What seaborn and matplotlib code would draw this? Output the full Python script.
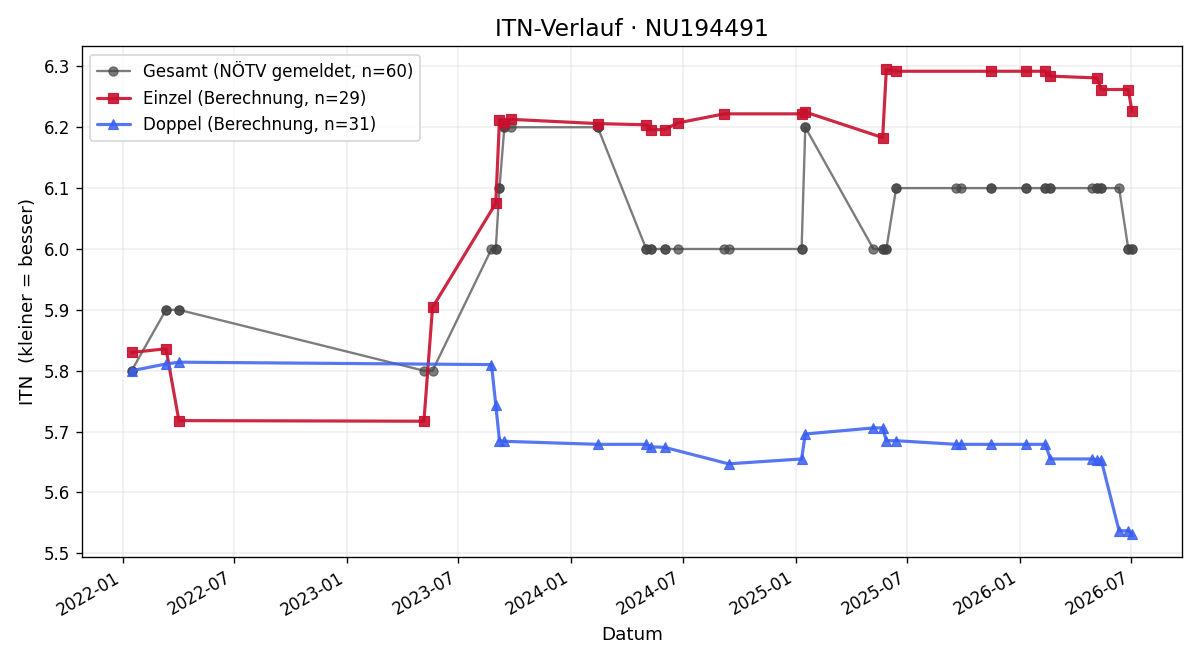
import matplotlib
matplotlib.use("Agg")
import matplotlib.pyplot as plt
import matplotlib.dates as mdates
import seaborn as sns
import pandas as pd

# ---- data ----
einzel_dates = ["2022-01-15", "2022-03-12", "2022-04-02", "2023-05-06", "2023-05-20",
                "2023-08-31", "2023-09-06", "2023-09-14", "2023-09-24", "2024-02-13",
                "2024-05-02", "2024-05-10", "2024-06-01", "2024-06-22", "2024-09-06",
                "2025-01-10", "2025-01-16", "2025-05-22", "2025-05-28", "2025-06-13",
                "2025-11-14", "2026-01-10", "2026-02-11", "2026-02-19", "2026-05-06",
                "2026-05-13", "2026-06-26", "2026-07-02"]
einzel_itn = [5.830, 5.836, 5.718, 5.717, 5.904,
              6.075, 6.212, 6.207, 6.213, 6.206,
              6.204, 6.196, 6.196, 6.207, 6.222,
              6.222, 6.225, 6.183, 6.295, 6.292,
              6.292, 6.292, 6.292, 6.284, 6.281,
              6.262, 6.262, 6.226]

doppel_dates = ["2022-01-15", "2022-03-12", "2022-04-02", "2023-08-24", "2023-08-31",
                "2023-09-06", "2023-09-14", "2024-02-13", "2024-05-02", "2024-05-10",
                "2024-06-01", "2024-09-13", "2025-01-10", "2025-01-16", "2025-05-07",
                "2025-05-22", "2025-05-28", "2025-06-13", "2025-09-19", "2025-09-26",
                "2025-11-14", "2026-01-10", "2026-02-11", "2026-02-19", "2026-04-28",
                "2026-05-06", "2026-05-13", "2026-06-11", "2026-06-26", "2026-07-02"]
doppel_itn = [5.800, 5.811, 5.814, 5.810, 5.744,
              5.685, 5.684, 5.679, 5.679, 5.675,
              5.674, 5.647, 5.655, 5.696, 5.706,
              5.706, 5.685, 5.685, 5.679, 5.679,
              5.679, 5.679, 5.679, 5.655, 5.655,
              5.654, 5.653, 5.537, 5.537, 5.532]

# reported (NÖTV) ITN per match date
gesamt_dates = ["2022-01-15", "2022-03-12", "2022-04-02", "2023-05-06", "2023-05-20",
                "2023-08-24", "2023-08-31", "2023-09-06", "2023-09-14", "2023-09-24",
                "2024-02-13", "2024-05-02", "2024-05-10", "2024-06-01", "2024-06-22",
                "2024-09-06", "2024-09-13", "2025-01-10", "2025-01-16", "2025-05-07",
                "2025-05-22", "2025-05-28", "2025-06-13", "2025-09-19", "2025-09-26",
                "2025-11-14", "2026-01-10", "2026-02-11", "2026-02-19", "2026-04-28",
                "2026-05-06", "2026-05-13", "2026-06-11", "2026-06-26", "2026-07-02"]
gesamt_itn = [5.8, 5.9, 5.9, 5.8, 5.8,
              6.0, 6.0, 6.1, 6.2, 6.2,
              6.2, 6.0, 6.0, 6.0, 6.0,
              6.0, 6.0, 6.0, 6.2, 6.0,
              6.0, 6.0, 6.1, 6.1, 6.1,
              6.1, 6.1, 6.1, 6.1, 6.1,
              6.1, 6.1, 6.1, 6.0, 6.0]

labels = ["Gesamt (NÖTV gemeldet, n=60)", "Einzel (Berechnung, n=29)", "Doppel (Berechnung, n=31)"]
title = "ITN-Verlauf · NU194491"

# ---- frames ----
ein = pd.DataFrame({"Datum": pd.to_datetime(einzel_dates), "ITN": einzel_itn})
dop = pd.DataFrame({"Datum": pd.to_datetime(doppel_dates), "ITN": doppel_itn})
ges_map = dict(zip(pd.to_datetime(gesamt_dates), gesamt_itn))
all_dates = sorted(list(ein["Datum"]) + list(dop["Datum"]))
ges = pd.DataFrame({"Datum": all_dates, "ITN": [ges_map[d] for d in all_dates]})

sns.set_theme(style="ticks", rc={
    "text.color": "black", "axes.labelcolor": "black",
    "xtick.color": "black", "ytick.color": "black",
    "axes.edgecolor": "black", "axes.linewidth": 0.8,
    "xtick.major.size": 3.5, "ytick.major.size": 3.5,
    "xtick.major.width": 0.8, "ytick.major.width": 0.8,
})
plt.rcParams["font.family"] = ["DejaVu Sans"]

fig, ax = plt.subplots(figsize=(10, 5.5), dpi=120)

c_g, c_e, c_d = "#444444", "#c8102e", "#3a5ff0"
sns.lineplot(data=ges, x="Datum", y="ITN", estimator=None, ax=ax, color=c_g,
             marker="o", markersize=5.5, linewidth=1.4, alpha=0.7, label=labels[0],
             markeredgecolor=c_g, markeredgewidth=0.7)
sns.lineplot(data=ein, x="Datum", y="ITN", estimator=None, ax=ax, color=c_e,
             marker="s", markersize=6.5, linewidth=1.9, alpha=0.9, label=labels[1],
             markeredgecolor=c_e, markeredgewidth=0.7)
sns.lineplot(data=dop, x="Datum", y="ITN", estimator=None, ax=ax, color=c_d,
             marker="^", markersize=6.5, linewidth=1.9, alpha=0.85, label=labels[2],
             markeredgecolor=c_d, markeredgewidth=0.7)

ax.set_title(title, fontsize=14)
ax.set_xlabel("Datum", fontsize=11)
ax.set_ylabel("ITN  (kleiner = besser)", fontsize=11)
ax.grid(True, alpha=0.3)
ax.xaxis.set_major_locator(mdates.MonthLocator(bymonth=[1, 7]))
ax.xaxis.set_major_formatter(mdates.DateFormatter("%Y-%m"))
ax.tick_params(labelsize=10)
plt.setp(ax.get_xticklabels(), rotation=30, ha="right")
ax.legend(loc="upper left", fontsize=10, frameon=True)

fig.subplots_adjust(left=0.068, right=0.985, top=0.930, bottom=0.156)
fig.savefig("out.png", dpi=120)
